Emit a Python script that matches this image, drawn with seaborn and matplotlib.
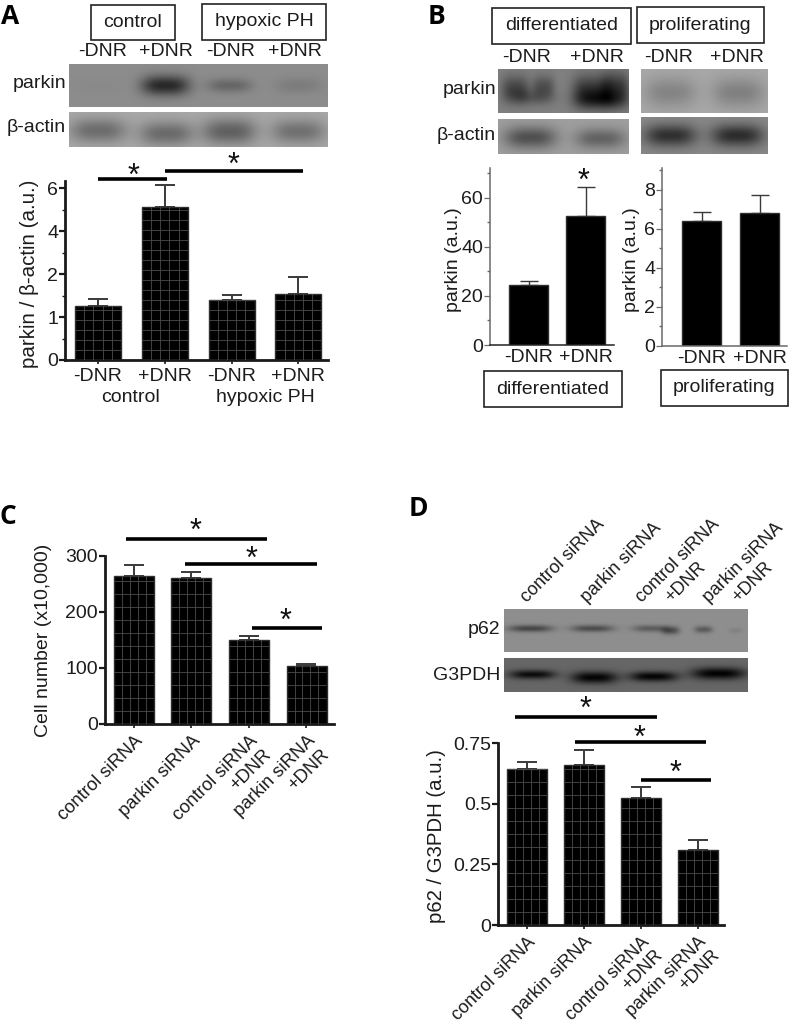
import numpy as np
import matplotlib
matplotlib.use("Agg")
import matplotlib.pyplot as plt
from matplotlib.patches import Rectangle
import seaborn as sns

W, H = 790, 1029

sns.set_theme(style="ticks")
plt.rcParams['font.family'] = ['Liberation Sans', 'DejaVu Sans']
plt.rcParams['text.color'] = '#1c1c1c'

# panel A, axis is 0 1 2 4 6 at equal steps
a_conditions = ["control -DNR", "control +DNR", "hypoxic -DNR", "hypoxic +DNR"]
a_ticklabels = ["-DNR", "+DNR", "-DNR", "+DNR"]
a_values = [1.26, 5.13, 1.40, 1.53]
a_err_tops = [1.42, 6.14, 1.51, 1.92]
a_ticks = [0, 1, 2, 4, 6]
a_minor = [0.5, 1.5, 3, 5]
a_scale_values = [0, 1, 2, 4, 6, 8]
a_scale_steps = [0, 1, 2, 3, 4, 5]

# panel B
b_conditions = ["-DNR", "+DNR"]
b1_values = [24.5, 52.4]
b1_err_tops = [26, 64.4]
b1_ticks = [0, 20, 40, 60]
b1_minor = [10, 30, 50, 70]
b2_values = [6.39, 6.78]
b2_err_tops = [6.83, 7.72]
b2_ticks = [0, 2, 4, 6, 8]
b2_minor = [1, 3, 5, 7, 9]

# panels C and D
si_conditions = ["control siRNA", "parkin siRNA", "control siRNA\n+DNR", "parkin siRNA\n+DNR"]
c_values = [264.8, 261, 150, 103.6]
c_err_tops = [284, 271, 157, 107.7]
c_ticks = [0, 100, 200, 300]
d_values = [0.644, 0.66, 0.525, 0.31]
d_err_tops = [0.671, 0.722, 0.568, 0.35]
d_ticks = [0, 0.25, 0.5, 0.75]
d_ticklabels = ["0", "0.25", "0.5", "0.75"]

fig = plt.figure(figsize=(W / 100, H / 100), dpi=100, facecolor="white")


def px_axes(x0, y0, x1, y1):
    return fig.add_axes([x0 / W, 1 - y1 / H, (x1 - x0) / W, (y1 - y0) / H])


def blot(x0, y0, x1, y1, bg, bands):
    # bands: centre x, centre y, half width, half height, darkness (pixels / grey levels)
    yy, xx = np.mgrid[y0:y1, x0:x1]
    img = np.full(xx.shape, float(bg))
    for cx, cy, sx, sy, depth in bands:
        img -= depth * np.exp(-np.abs((xx - cx) / sx) ** 3 - ((yy - cy) / sy) ** 2)
    ax = px_axes(x0, y0, x1, y1)
    sns.heatmap(np.clip(img, 0, 255), cmap="gray", vmin=0, vmax=255, cbar=False,
                xticklabels=False, yticklabels=False, ax=ax)


def add_mesh(ax, n_vert, step_px):
    # thin grey grid printed on the bars, clipped to each one
    height_px = ax.get_position().height * H
    fracs = np.arange(step_px / height_px, 1, step_px / height_px)
    trans = ax.get_xaxis_transform()
    for p in list(ax.patches):
        x0, w = p.get_x(), p.get_width()
        xs = np.linspace(x0, x0 + w, n_vert + 2)[1:-1]
        v = ax.vlines(xs, 0, 1, transform=trans, color="#4c4c4c", lw=0.6, zorder=3)
        h = ax.hlines(fracs, x0, x0 + w, transform=trans, color="#4c4c4c", lw=0.6, zorder=3)
        v.set_clip_path(p)
        h.set_clip_path(p)


def bar_panel(rect, first, spacing, width_px, cats, values, tops, ticks, ylim,
              minor=None, ticklabels=None, spine="#1a1a1a", spine_w=2.0, err_w=1.4,
              capsize=7.5, edge="#2e2e2e", xtick_len=3, scale=None):
    ax = px_axes(*rect)
    sns.barplot(x=cats, y=values, color="black", saturation=1, errorbar=None,
                width=width_px / spacing, edgecolor=edge, linewidth=1.0, ax=ax, zorder=2)
    yerr = [np.zeros(len(values)), np.array(tops) - np.array(values)]
    ax.errorbar(np.arange(len(cats)), values, yerr=yerr, fmt="none", ecolor="#3a3a3a",
                elinewidth=err_w, capsize=capsize, capthick=err_w, zorder=1)
    if scale:
        ax.set_yscale("function", functions=scale)
    ax.set_xlim((rect[0] - first) / spacing, (rect[2] - first) / spacing)
    ax.set_ylim(*ylim)
    ax.set_yticks(ticks)
    ax.set_yticklabels(ticklabels if ticklabels else [str(t) for t in ticks])
    ax.set_yticks(minor if minor else [], minor=True)
    ax.set_xticks(np.arange(len(cats)))
    ax.patch.set_alpha(0)
    for s in ["top", "right"]:
        ax.spines[s].set_visible(False)
    for s in ["left", "bottom"]:
        ax.spines[s].set_color(spine)
        ax.spines[s].set_linewidth(spine_w)
    ax.tick_params(axis="y", which="major", length=4, width=spine_w * 0.8, color=spine,
                   labelsize=14, pad=1, labelcolor="#1c1c1c")
    ax.tick_params(axis="y", which="minor", length=2.5, width=1, color=spine)
    ax.tick_params(axis="x", length=xtick_len, width=1.2, color=spine, labelsize=14,
                   labelcolor="#1c1c1c", pad=3)
    return ax


# ---- blots
blot(69, 64, 328, 107, 140, [(98, 85, 25, 8, 3), (165, 85, 24, 10, 100), (229, 85, 22, 7, 38),
                             (298, 85, 23, 8, 16)])
blot(69, 112, 328, 147, 168, [(98, 130, 28, 12, 60), (166, 133, 27, 12, 62),
                              (229, 131, 27, 13, 72), (298, 131, 27, 12, 56)])
blot(498, 69, 629, 113, 128, [(515, 88, 14, 13, 58), (543, 86, 11, 11, 48), (530, 97, 24, 8, 34),
                              (590, 90, 18, 15, 78), (615, 88, 14, 16, 78), (600, 100, 26, 9, 58)])
blot(641, 69, 768, 113, 168, [(670, 92, 26, 15, 36), (738, 92, 26, 15, 40)])
blot(498, 119, 629, 154, 158, [(530, 137, 26, 11, 78), (600, 138, 25, 10, 60)])
blot(641, 117, 768, 154, 136, [(670, 135, 26, 11, 88), (737, 135, 26, 11, 92)])
blot(504, 609, 748, 652, 142, [(530, 628, 22, 3.5, 72), (592, 628, 21, 3.5, 66), (650, 628, 18, 3.5, 50),
                               (670, 630, 9, 4, 62), (703, 629, 9, 3.5, 52), (735, 630, 7, 3, 12)])
blot(504, 658, 748, 692, 102, [(532, 674, 23, 4.5, 90), (594, 677, 23, 6, 98), (653, 676, 24, 5, 98),
                               (718, 673, 27, 6, 100)])

# ---- panel A, piecewise axis
ax_a = bar_panel((65, 181, 328, 360), 98, 66.8, 46, a_conditions, a_values, a_err_tops,
                 a_ticks, (0, 6.33), minor=a_minor,
                 scale=(lambda v: np.interp(v, a_scale_values, a_scale_steps),
                        lambda p: np.interp(p, a_scale_steps, a_scale_values)))
ax_a.set_xticklabels(a_ticklabels)
add_mesh(ax_a, 4, 10)

# ---- panel B
ax_b1 = bar_panel((490, 168, 614, 345), 528.5, 57, 39, b_conditions, b1_values, b1_err_tops,
                  b1_ticks, (0, 72), minor=b1_minor, spine="#6a6a6a", spine_w=1.1, err_w=1.0,
                  capsize=6.5, xtick_len=0)
ax_b1.spines["bottom"].set_color("#222222")
ax_b2 = bar_panel((662, 168, 787, 346), 701.5, 58, 39, b_conditions, b2_values, b2_err_tops,
                  b2_ticks, (0, 9.1), minor=b2_minor, spine="#6a6a6a", spine_w=1.1, err_w=1.0,
                  capsize=6.5, xtick_len=0)

# ---- panel C
ax_c = bar_panel((105, 556, 334, 724), 134, 57.5, 40, si_conditions, c_values, c_err_tops,
                 c_ticks, (0, 300))
ax_c.set_xticklabels(si_conditions, rotation=45, ha="right", va="top", rotation_mode="anchor",
                     fontsize=13.2)
add_mesh(ax_c, 4, 13)

# ---- panel D
ax_d = bar_panel((498, 743, 724, 925), 526.5, 57, 40, si_conditions, d_values, d_err_tops,
                 d_ticks, (0, 0.75), ticklabels=d_ticklabels)
ax_d.set_xticklabels(si_conditions, rotation=45, ha="right", va="top", rotation_mode="anchor",
                     fontsize=13)
add_mesh(ax_d, 4, 13)

# ---- everything else sits on a pixel overlay
ov = fig.add_axes([0, 0, 1, 1], facecolor="none")
ov.set_xlim(0, W)
ov.set_ylim(H, 0)
ov.axis("off")


def label(x, y, s, ha="center", rot=0, size=14):
    ov.text(x, y, s, ha=ha, va="center", rotation=rot, fontsize=size)


def box(x0, y0, x1, y1, s):
    ov.add_patch(Rectangle((x0, y0), x1 - x0, y1 - y0, fill=False, ec="#222222", lw=1.2))
    label((x0 + x1) / 2, (y0 + y1) / 2, s)


def star(x, y):
    ov.text(x, y + 17, "*", ha="center", va="baseline", fontsize=22, color="#111111")


def sig(x0, x1, y, sx, sy, lw=2.6):
    ov.plot([x0, x1], [y, y], color="black", lw=lw, solid_capstyle="butt")
    star(sx, sy)


for x, y, s in [(10, 17, "A"), (436, 16, "B"), (8, 517, "C"), (418, 509, "D")]:
    ov.text(x, y, s, ha="center", va="center", fontsize=19, fontweight="bold",
            family="Open Sans", color="black")

# A
box(91, 5, 175, 40, "control")
box(202, 4, 326, 40, "hypoxic PH")
for x, s in zip([103, 166, 231, 295], a_ticklabels):
    label(x, 51, s)
label(66, 83, "parkin", ha="right")
label(66, 128, "β-actin", ha="right")
sig(98, 167, 179, 133, 168)
sig(165, 303, 171, 234, 157)
label(30, 274, "parkin / β-actin (a.u.)", rot=90, size=14.8)
label(130, 397, "control")
label(265, 397, "hypoxic PH")

# B
box(492, 8, 631, 44, "differentiated")
box(637, 7, 764, 43, "proliferating")
for x, s in zip([527, 597, 669, 737], b_conditions * 2):
    label(x, 58, s)
label(496, 90, "parkin", ha="right")
label(496, 136, "β-actin", ha="right")
star(584, 173)
label(453, 260, "parkin (a.u.)", rot=90)
label(632, 260, "parkin (a.u.)", rot=90)
box(484, 371, 622, 407, "differentiated")
box(661, 370, 788, 406, "proliferating")

# C
sig(126, 267, 539, 196, 523)
sig(185, 317, 564, 251, 551)
sig(252, 322, 628, 286, 613)
label(44, 640, "Cell number (x10,000)", rot=90)

# D
label(500, 629, "p62", ha="right")
label(500, 676, "G3PDH", ha="right")
for x, parts in zip([530, 590, 645, 712], si_conditions):
    lines = parts.split("\n")
    ov.text(x, 606, lines[0], ha="left", va="bottom", rotation=45, rotation_mode="anchor",
            fontsize=13)
    if len(lines) > 1:
        ov.text(x + 29, 606, lines[1], ha="left", va="bottom", rotation=45,
                rotation_mode="anchor", fontsize=13)
sig(515, 657, 717, 586, 701)
sig(575, 706, 742, 639, 730)
sig(641, 711, 780, 676, 765)
label(437, 836, "p62 / G3PDH (a.u.)", rot=90, size=14.7)

fig.savefig("out.png", dpi=100)
